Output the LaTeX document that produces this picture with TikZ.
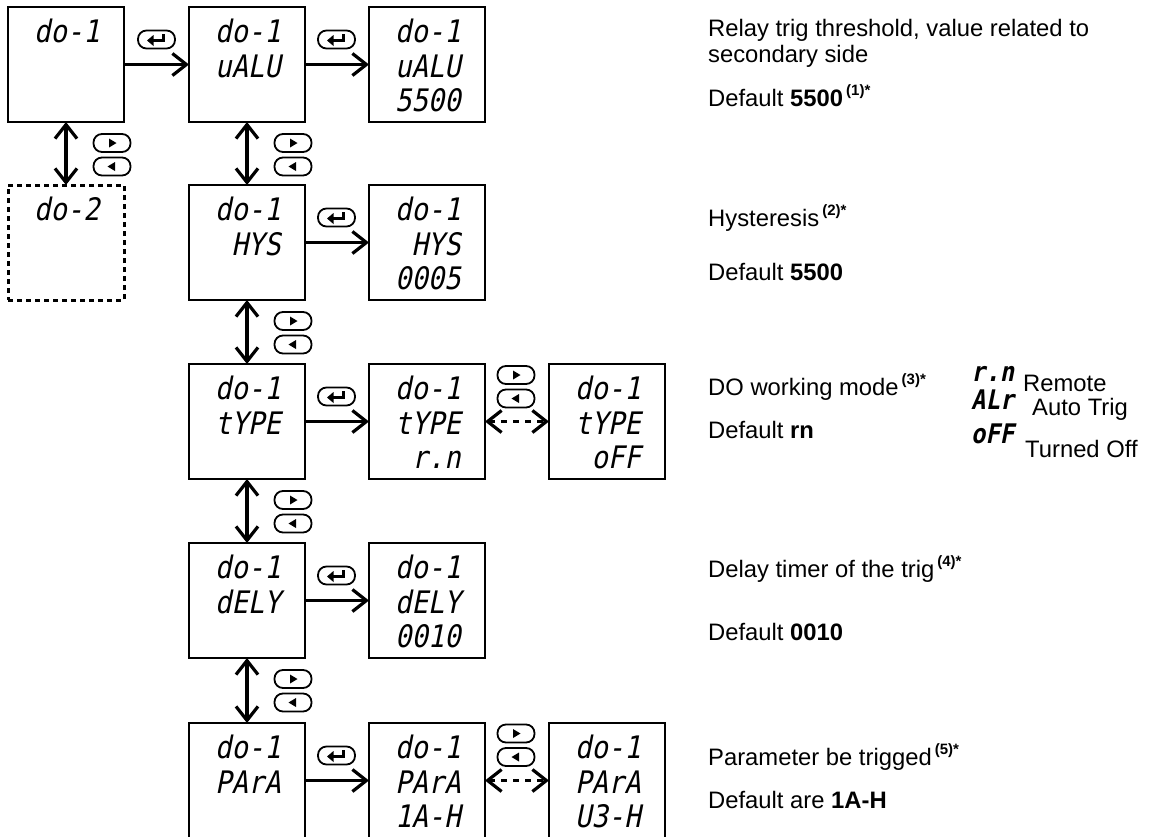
\documentclass[tikz,border=0pt]{standalone}
\usepackage{fontspec}
\setmainfont{Liberation Sans}
\newfontfamily\segfont[FakeSlant=0.2,FakeStretch=0.88]{DejaVu Sans Mono}
\usetikzlibrary{arrows.meta,calc}
\newcommand\supmark[1]{\hspace{3pt}\raisebox{0.45em}{\fontsize{15}{15}\selectfont\textbf{#1}}}
\newcommand\navpills[3]{%
  \node[pill] (#1r) at (#2,#3) {};
  \fill ($(#1r.center)+(-3,-4.5)$) -- ++(7.5,4.5) -- ++(-7.5,4.5) -- cycle;
  \node[pill] (#1l) at (#2,#3+23.5) {};
  \fill ($(#1l.center)+(3,-4.5)$) -- ++(-7.5,4.5) -- ++(7.5,4.5) -- cycle;
}
\newcommand\enterpill[3]{%
  \node[pill] (#1) at (#2,#3) {};
  \fill ($(#1.center)+(-9.5,1)$) -- ++(6.5,-5.5) -- ++(0,11) -- cycle;
  \draw[line width=2.8pt] ($(#1.center)+(-4,1)$) -- ($(#1.center)+(7,1)$) -- ($(#1.center)+(7,-5.5)$);
}
\begin{document}
\begin{tikzpicture}[x=1pt,y=-1pt,
  dbox/.style={draw, line width=2.2pt, minimum width=116pt, minimum height=115pt, inner sep=0pt, outer sep=0pt, anchor=north west},
  dashbox/.style={dbox, dash pattern=on 5pt off 4pt, line width=3pt},
  seg/.style={font=\segfont\fontsize{31}{31}\selectfont, inner sep=0pt, anchor=base east},
  segleg/.style={font=\segfont\bfseries\fontsize{27}{27}\selectfont, inner sep=0pt, anchor=base west},
  pill/.style={draw, line width=1.8pt, rounded corners=8.5pt, minimum width=37pt, minimum height=18pt, inner sep=0pt},
  arr/.style={line width=3.2pt, -{Straight Barb[length=14pt,width=22pt]}},
  darr/.style={line width=3.2pt, {Straight Barb[length=14pt,width=22pt]}-{Straight Barb[length=14pt,width=22pt]}},
  dsharr/.style={darr, dash pattern=on 6pt off 6pt},
  desc/.style={font=\fontsize{23.8}{28}\selectfont, inner sep=0pt, anchor=base west}]
\useasboundingbox (0,0) rectangle (1154,836);

% ---------- display boxes ----------
\node[dbox] (A1) at (8,7) {};
\node[dashbox] (A2) at (8,185) {};
\node[dbox] (B1) at (189,7) {};
\node[dbox] (C1) at (369,7) {};
\node[dbox] (B2) at (189,185) {};
\node[dbox] (C2) at (369,185) {};
\node[dbox] (B3) at (189,364) {};
\node[dbox] (C3) at (369,364) {};
\node[dbox] (D3) at (549,364) {};
\node[dbox] (B4) at (189,543) {};
\node[dbox] (C4) at (369,543) {};
\node[dbox] (B5) at (189,723) {};
\node[dbox] (C5) at (369,723) {};
\node[dbox] (D5) at (549,723) {};

% ---------- display texts ----------
\node[seg] (A1a) at ($(A1.north west)+(92,35.5)$) {do-1};
\node[seg] (A2a) at ($(A2.north west)+(92,35.5)$) {do-2};
\node[seg] (B1a) at ($(B1.north west)+(92,35.5)$) {do-1};
\node[seg] (B1b) at ($(B1.north west)+(92,70)$) {uALU};
\node[seg] (C1a) at ($(C1.north west)+(92,35.5)$) {do-1};
\node[seg] (C1b) at ($(C1.north west)+(92,70)$) {uALU};
\node[seg] (C1c) at ($(C1.north west)+(92,104)$) {5500};
\node[seg] (B2a) at ($(B2.north west)+(92,35.5)$) {do-1};
\node[seg] (B2b) at ($(B2.north west)+(92,70)$) {HYS};
\node[seg] (C2a) at ($(C2.north west)+(92,35.5)$) {do-1};
\node[seg] (C2b) at ($(C2.north west)+(92,70)$) {HYS};
\node[seg] (C2c) at ($(C2.north west)+(92,104)$) {0005};
\node[seg] (B3a) at ($(B3.north west)+(92,35.5)$) {do-1};
\node[seg] (B3b) at ($(B3.north west)+(92,70)$) {tYPE};
\node[seg] (C3a) at ($(C3.north west)+(92,35.5)$) {do-1};
\node[seg] (C3b) at ($(C3.north west)+(92,70)$) {tYPE};
\node[seg] (C3c) at ($(C3.north west)+(92,104)$) {r.n};
\node[seg] (D3a) at ($(D3.north west)+(92,35.5)$) {do-1};
\node[seg] (D3b) at ($(D3.north west)+(92,70)$) {tYPE};
\node[seg] (D3c) at ($(D3.north west)+(92,104)$) {oFF};
\node[seg] (B4a) at ($(B4.north west)+(92,35.5)$) {do-1};
\node[seg] (B4b) at ($(B4.north west)+(92,70)$) {dELY};
\node[seg] (C4a) at ($(C4.north west)+(92,35.5)$) {do-1};
\node[seg] (C4b) at ($(C4.north west)+(92,70)$) {dELY};
\node[seg] (C4c) at ($(C4.north west)+(92,104)$) {0010};
\node[seg] (B5a) at ($(B5.north west)+(92,35.5)$) {do-1};
\node[seg] (B5b) at ($(B5.north west)+(92,70)$) {PArA};
\node[seg] (C5a) at ($(C5.north west)+(92,35.5)$) {do-1};
\node[seg] (C5b) at ($(C5.north west)+(92,70)$) {PArA};
\node[seg] (C5c) at ($(C5.north west)+(92,104)$) {1A-H};
\node[seg] (D5a) at ($(D5.north west)+(92,35.5)$) {do-1};
\node[seg] (D5b) at ($(D5.north west)+(92,70)$) {PArA};
\node[seg] (D5c) at ($(D5.north west)+(92,104)$) {U3-H};

% ---------- enter arrows ----------
\draw[arr] (A1.east) -- (B1.west);
\draw[arr] (B1.east) -- (C1.west);
\draw[arr] (B2.east) -- (C2.west);
\draw[arr] (B3.east) -- (C3.west);
\draw[arr] (B4.east) -- (C4.west);
\draw[arr] (B5.east) -- (C5.west);
\enterpill{E1}{156.5}{39.5}
\enterpill{E2}{336.5}{39.5}
\enterpill{E3}{336.5}{217.5}
\enterpill{E4}{336.5}{396.5}
\enterpill{E5}{336.5}{575.5}
\enterpill{E6}{336.5}{755.5}

% ---------- up/down arrows ----------
\draw[darr] (A1.south) -- (A2.north);
\draw[darr] (B1.south) -- (B2.north);
\draw[darr] (B2.south) -- (B3.north);
\draw[darr] (B3.south) -- (B4.north);
\draw[darr] (B4.south) -- (B5.north);
\navpills{N1}{112}{143}
\navpills{N2}{293}{143}
\navpills{N3}{293}{321}
\navpills{N4}{293}{500}
\navpills{N5}{293}{679}

% ---------- dashed option arrows ----------
\draw[dsharr] (C3.east) -- (D3.west);
\draw[dsharr] (C5.east) -- (D5.west);
\navpills{N6}{516}{375}
\navpills{N7}{516}{733.5}

% ---------- descriptions ----------
\node[desc] (t1a) at (708,36) {Relay trig threshold, value related to};
\node[desc] (t1b) at (708,62) {secondary side};
\node[desc] (t1c) at (708,106) {Default \textbf{5500}\supmark{(1)*}};
\node[desc] (t2a) at (708,226) {Hysteresis\supmark{(2)*}};
\node[desc] (t2b) at (708,280) {Default \textbf{5500}};
\node[desc] (t3a) at (708,395) {DO working mode\supmark{(3)*}};
\node[desc] (t3b) at (708,438) {Default \textbf{rn}};
\node[segleg] (l1) at (971,381) {r.n};
\node[segleg] (l2) at (971,409) {ALr};
\node[segleg] (l3) at (971,443) {oFF};
\node[desc] (l1t) at (1023,391) {Remote};
\node[desc] (l2t) at (1032,415) {Auto Trig};
\node[desc] (l3t) at (1025,457) {Turned Off};
\node[desc] (t4a) at (708,577) {Delay timer of the trig\supmark{(4)*}};
\node[desc] (t4b) at (708,640) {Default \textbf{0010}};
\node[desc] (t5a) at (708,765) {Parameter be trigged\supmark{(5)*}};
\node[desc] (t5b) at (708,808) {Default are \textbf{1A-H}};
\end{tikzpicture}
\end{document}
